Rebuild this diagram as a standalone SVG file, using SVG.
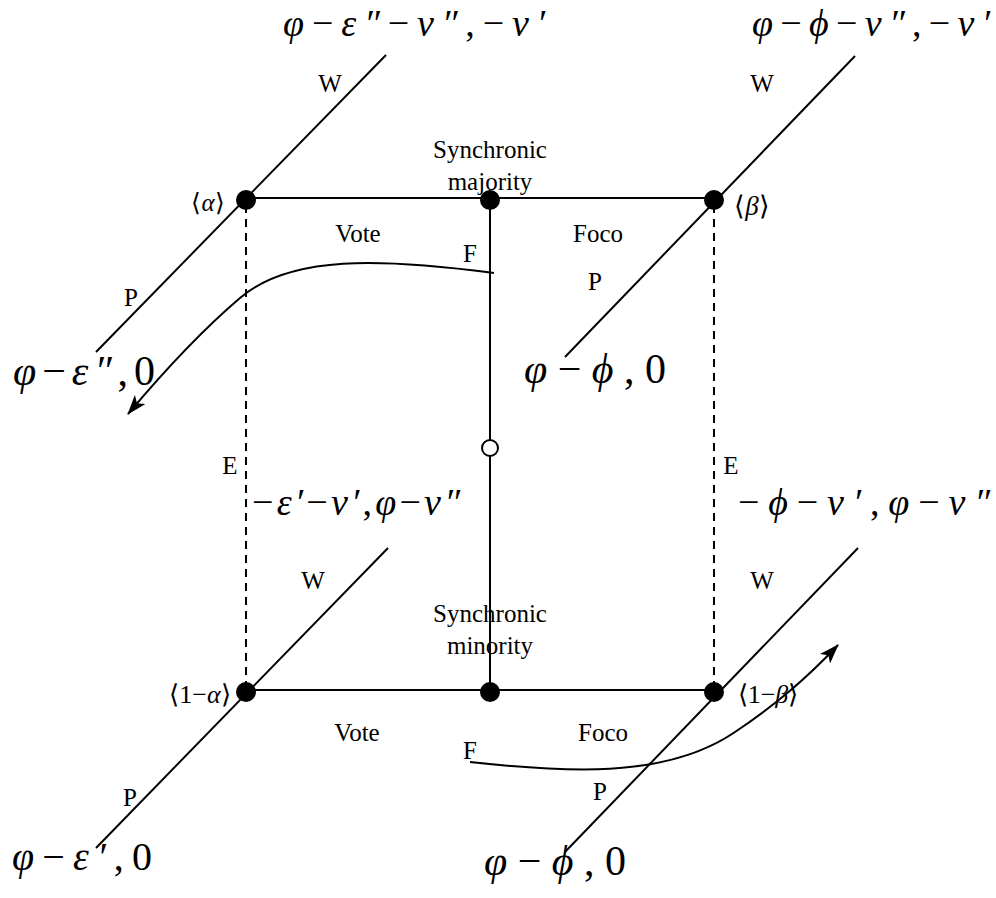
<svg xmlns="http://www.w3.org/2000/svg" width="996" height="898" viewBox="0 0 996 898">
<style>
.lbl{font-family:"Liberation Serif","Times New Roman",serif;font-size:25px;fill:#000}
.m{font-family:"Liberation Serif","Times New Roman",serif;fill:#000;font-style:italic}
.up{font-style:normal}
.ln{stroke:#000;stroke-width:2;fill:none}
.ds{stroke:#000;stroke-width:2;fill:none;stroke-dasharray:8,6}
.dot{fill:#000}
</style>
<defs>
<marker id="ah" viewBox="0 0 20 14" refX="19" refY="7" markerWidth="20" markerHeight="14" markerUnits="userSpaceOnUse" orient="auto">
<path d="M0,0 L20,7 L0,14 L5,7 Z" fill="#000"/>
</marker>
</defs>
<g id="connectors">
<line class="ln" x1="246" y1="198" x2="714" y2="198"/>
<line class="ln" x1="246" y1="690" x2="714" y2="690"/>
<line class="ln" x1="490" y1="198" x2="490" y2="690"/>
<line class="ds" x1="246" y1="205" x2="246" y2="690"/>
<line class="ds" x1="714" y1="205" x2="714" y2="690"/>
<line class="ln" x1="386" y1="55" x2="96" y2="352"/>
<line class="ln" x1="855" y1="56" x2="565" y2="357"/>
<line class="ln" x1="388" y1="548" x2="96" y2="848"/>
<line class="ln" x1="858" y1="548" x2="565" y2="852"/>
<path class="ln" d="M494,273 C380,258 290,255 240,298 C200,332 165,370 128,414" marker-end="url(#ah)"/>
<path class="ln" d="M470,762 C560,772 665,780 735,732 C775,705 805,680 838,645" marker-end="url(#ah)"/>
</g>
<g id="node-alpha"><circle class="dot" cx="246" cy="200" r="10"/><text class="m" x="208" y="211" font-size="25" text-anchor="middle"><tspan class="up">⟨</tspan>α<tspan class="up">⟩</tspan></text></g>
<g id="node-topmid"><circle class="dot" cx="490" cy="200" r="10"/></g>
<g id="node-beta"><circle class="dot" cx="751" cy="200" r="0"/><circle class="dot" cx="714" cy="200" r="10"/><text class="m" x="752" y="215" font-size="27" text-anchor="middle"><tspan class="up">⟨</tspan>β<tspan class="up">⟩</tspan></text></g>
<g id="node-1alpha"><circle class="dot" cx="246" cy="692" r="10"/><text class="m" x="200" y="703" font-size="26" text-anchor="middle"><tspan class="up">⟨1−</tspan>α<tspan class="up">⟩</tspan></text></g>
<g id="node-botmid"><circle class="dot" cx="490" cy="692" r="10"/></g>
<g id="node-1beta"><circle class="dot" cx="714" cy="692" r="10"/><text class="m" x="768" y="703" font-size="26" text-anchor="middle"><tspan class="up">⟨1−</tspan>β<tspan class="up">⟩</tspan></text></g>
<g id="node-open"><circle cx="490" cy="448" r="8" fill="#fff" stroke="#000" stroke-width="2"/></g>
<g id="labels">
<text class="m" x="283" y="36" font-size="38" textLength="262" lengthAdjust="spacing">φ<tspan class="up">−</tspan>ε″<tspan class="up">−</tspan>ν″<tspan class="up">,−</tspan>ν′</text>
<text class="m" x="752" y="36" font-size="38" textLength="238" lengthAdjust="spacing">φ<tspan class="up">−</tspan>ϕ<tspan class="up">−</tspan>ν″<tspan class="up">,−</tspan>ν′</text>
<text class="m" x="252" y="515" font-size="38" textLength="208" lengthAdjust="spacing"><tspan class="up">−</tspan>ε′<tspan class="up">−</tspan>ν′<tspan class="up">,</tspan>φ<tspan class="up">−</tspan>ν″</text>
<text class="m" x="738" y="515" font-size="38" textLength="252" lengthAdjust="spacing"><tspan class="up">−</tspan>ϕ<tspan class="up">−</tspan>ν′<tspan class="up">,</tspan>φ<tspan class="up">−</tspan>ν″</text>
<text class="m" x="13" y="385" font-size="42" textLength="142" lengthAdjust="spacing">φ<tspan class="up">−</tspan>ε″<tspan class="up">,0</tspan></text>
<text class="m" x="524" y="383" font-size="42" textLength="142" lengthAdjust="spacing">φ<tspan class="up">−</tspan>ϕ<tspan class="up">,0</tspan></text>
<text class="m" x="12" y="870" font-size="40" textLength="140" lengthAdjust="spacing">φ<tspan class="up">−</tspan>ε′<tspan class="up">,0</tspan></text>
<text class="m" x="484" y="875" font-size="42" textLength="142" lengthAdjust="spacing">φ<tspan class="up">−</tspan>ϕ<tspan class="up">,0</tspan></text>
<text class="lbl" x="330" y="92" text-anchor="middle">W</text>
<text class="lbl" x="762" y="92" text-anchor="middle">W</text>
<text class="lbl" x="490" y="158" text-anchor="middle">Synchronic</text>
<text class="lbl" x="490" y="190" text-anchor="middle">majority</text>
<text class="lbl" x="358" y="242" text-anchor="middle">Vote</text>
<text class="lbl" x="598" y="242" text-anchor="middle">Foco</text>
<text class="lbl" x="470" y="262" text-anchor="middle">F</text>
<text class="lbl" x="131" y="306" text-anchor="middle">P</text>
<text class="lbl" x="595" y="290" text-anchor="middle">P</text>
<text class="lbl" x="230" y="474" text-anchor="middle">E</text>
<text class="lbl" x="731" y="474" text-anchor="middle">E</text>
<text class="lbl" x="313" y="589" text-anchor="middle">W</text>
<text class="lbl" x="762" y="589" text-anchor="middle">W</text>
<text class="lbl" x="490" y="622" text-anchor="middle">Synchronic</text>
<text class="lbl" x="490" y="654" text-anchor="middle">minority</text>
<text class="lbl" x="357" y="741" text-anchor="middle">Vote</text>
<text class="lbl" x="603" y="741" text-anchor="middle">Foco</text>
<text class="lbl" x="470" y="759" text-anchor="middle">F</text>
<text class="lbl" x="130" y="806" text-anchor="middle">P</text>
<text class="lbl" x="600" y="800" text-anchor="middle">P</text>
</g>
</svg>
